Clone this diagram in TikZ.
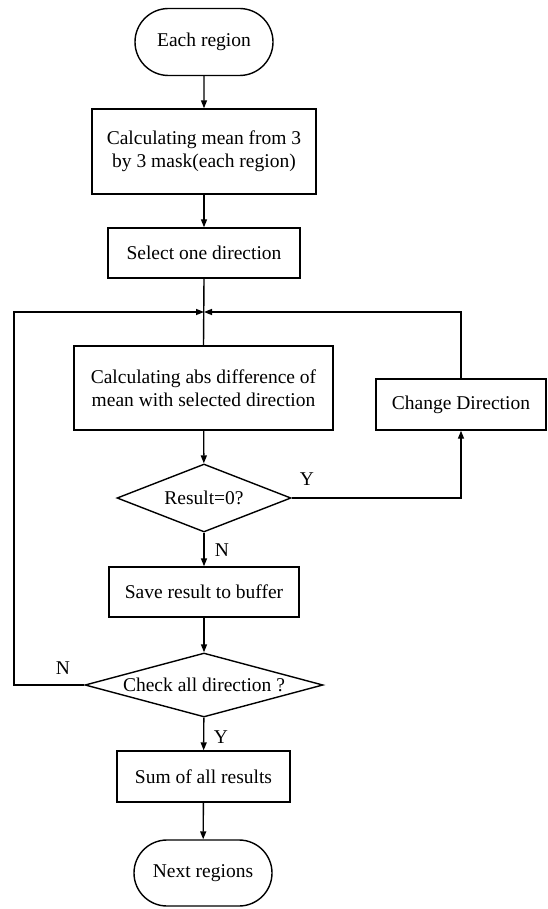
\documentclass[tikz,border=0pt]{standalone}
\usepackage{fontspec}
\setmainfont{Liberation Serif}
\newfontfamily\tnrfont{Liberation Serif}
\usetikzlibrary{shapes.geometric,shapes.misc,arrows.meta}
\begin{document}
\begin{tikzpicture}[x=1pt,y=1pt,
  line width=1.4pt,
  font=\tnrfont\fontsize{19.5}{23}\selectfont,
  every node/.style={inner sep=0pt},
  stepbox/.style={draw,rectangle,align=center},
  term/.style={draw,rounded rectangle,minimum width=138pt,minimum height=67pt},
  decide/.style={draw,diamond,inner sep=0pt},
  arr/.style={-{Triangle[length=8pt,width=6pt]}},
  lbl/.style={inner sep=0pt}]
\useasboundingbox (0,0) rectangle (548,-909);

\node[term] (start) at (204,-42) {Each region};
\node[stepbox,minimum width=224pt,minimum height=85pt] (b1) at (204,-151.5) {Calculating mean from 3\\by 3 mask(each region)};
\node[stepbox,minimum width=192pt,minimum height=50pt] (b2) at (204,-253) {Select one direction};
\coordinate (j) at (204,-312);
\node[stepbox,minimum width=259pt,minimum height=84pt] (b3) at (203.5,-388) {Calculating abs difference of\\mean with selected direction};
\node[stepbox,minimum width=170pt,minimum height=51pt] (chg) at (461,-404.5) {Change Direction};
\node[decide,aspect=2.56,minimum width=174pt,minimum height=68pt] (d1) at (204,-498) {Result=0?};
\node[stepbox,minimum width=190pt,minimum height=50pt] (save) at (204,-592) {Save result to buffer};
\node[decide,aspect=3.7,minimum width=238pt,minimum height=64pt] (d2) at (204,-685) {Check all direction ?};
\node[stepbox,minimum width=173pt,minimum height=51pt] (sum) at (203.5,-776.5) {Sum of all results};
\node[term,minimum height=66pt] (end) at (203,-873) {Next regions};
\coordinate (lx) at (14,0);

\node[lbl] (ly1) at (307,-479) {Y};
\node[lbl] (ln1) at (222,-550) {N};
\node[lbl] (ln2) at (63,-668) {N};
\node[lbl] (ly2) at (221,-737) {Y};

\draw[arr] (start) -- (b1);
\draw[arr] (b1) -- (b2);
\draw (b2.south) -- (b3.north);
\draw[arr] (d2.west) -- (d2.west -| lx) |- (j);
\draw[arr] (chg.north) |- (j);
\draw[arr] (b3) -- (d1);
\draw[arr] (d1.east) -| (chg.south);
\draw[arr] (d1) -- (save);
\draw[arr] (save) -- (d2);
\draw[arr] (d2) -- (sum);
\draw[arr] (sum) -- (end);
\end{tikzpicture}
\end{document}
